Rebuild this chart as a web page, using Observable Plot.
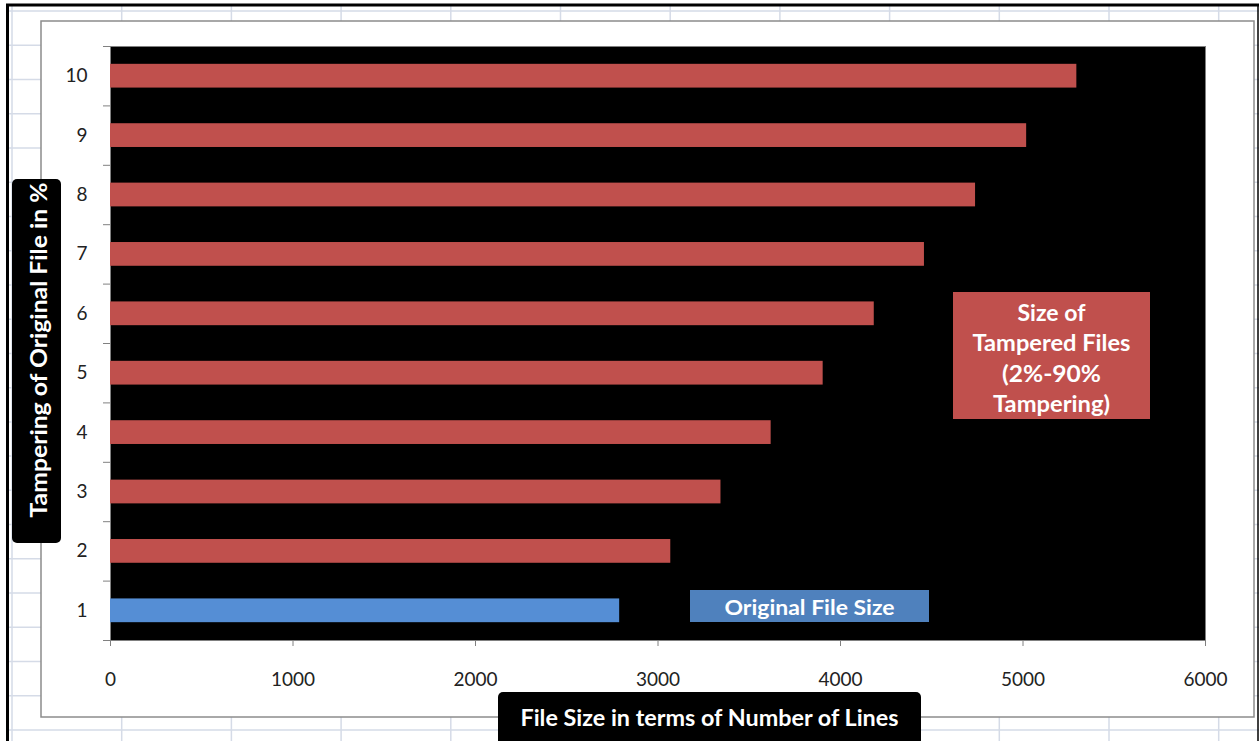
<!DOCTYPE html>
<html>
<head>
<meta charset="utf-8">
<script src="https://cdn.jsdelivr.net/npm/d3@7"></script>
<script src="https://cdn.jsdelivr.net/npm/@observablehq/plot@0.6"></script>
<style>
html, body { margin: 0; padding: 0; background: #fff; }
#chart { width: 1259px; height: 741px; overflow: hidden; position: relative; }
</style>
</head>
<body>
<div id="chart"></div>
<script>
// ---- data ----
const categories = [1, 2, 3, 4, 5, 6, 7, 8, 9, 10];           // tampering level (y)
const fileSizes  = [2790, 3070, 3345, 3620, 3905, 4185, 4460, 4740, 5020, 5295]; // lines (x)
const seriesKind = ["original", "tampered", "tampered", "tampered", "tampered",
                    "tampered", "tampered", "tampered", "tampered", "tampered"];
const xTicks = [0, 1000, 2000, 3000, 4000, 5000, 6000];
const xTitle = "File Size in terms of Number of Lines";
const yTitle = "Tampering of Original File in %";
const originalLabel = "Original File Size";
const tamperedLabel = ["Size of", "Tampered Files", "(2%-90%", "Tampering)"];

const data = categories.map((c, i) => ({pct: c, size: fileSizes[i], kind: seriesKind[i]}));
const boundaries = categories.map(c => c - 0.5).concat([categories[categories.length - 1] + 0.5]);

const FONT = "Lato, 'Open Sans', sans-serif";

const plot = Plot.plot({
  width: 1259,
  height: 741,
  marginLeft: 110,
  marginRight: 54,
  marginTop: 46,
  marginBottom: 101,
  style: {background: "transparent", fontFamily: FONT, color: "#222", overflow: "hidden"},
  x: {domain: [0, 6000]},
  y: {domain: [0.5, 10.5]},
  color: {domain: ["original", "tampered"], range: ["#558ED5", "#C0504D"]},
  marks: [
    Plot.frame({fill: "black", stroke: "#808080"}),
    Plot.rectX(data, {x1: 0, x2: "size", y1: d => d.pct - 0.2, y2: d => d.pct + 0.2, fill: "kind"}),
    Plot.axisX({ticks: xTicks, tickSize: 6, tickPadding: 26, fontSize: 19, stroke: "#808080",
                fill: "#222", label: null, tickFormat: d => String(d)}),
    Plot.axisY({ticks: categories, tickSize: 0, tickPadding: 23, fontSize: 19,
                fill: "#222", label: null, tickFormat: d => String(d)}),
    Plot.axisY({ticks: boundaries, tickSize: 7, stroke: "#808080", label: null, tickFormat: () => ""})
  ]
});

document.getElementById("chart").appendChild(plot);

const svg = d3.select(plot);

// ---- spreadsheet background (behind chart) ----
const bg = svg.insert("g", ":first-child");
bg.append("rect").attr("x", 0).attr("y", 0).attr("width", 1259).attr("height", 741).attr("fill", "#fff");
for (let k = 0; k <= 22; k++) {
  const y = 11 + 34.24 * k;
  bg.append("line").attr("x1", 8).attr("x2", 1259).attr("y1", y).attr("y2", y)
    .attr("stroke", "#d5dbe7").attr("stroke-width", 1.5);
}
for (let k = 0; k <= 11; k++) {
  const x = 12 + 109.7 * k;
  bg.append("line").attr("x1", x).attr("x2", x).attr("y1", 5).attr("y2", 741)
    .attr("stroke", "#d5dbe7").attr("stroke-width", 1.5);
}
// black screenshot frame
bg.append("line").attr("x1", 7.5).attr("x2", 7.5).attr("y1", 4).attr("y2", 741).attr("stroke", "#000").attr("stroke-width", 3);
bg.append("line").attr("x1", 6).attr("x2", 1259).attr("y1", 5).attr("y2", 5).attr("stroke", "#000").attr("stroke-width", 3);
bg.append("line").attr("x1", 1258).attr("x2", 1258).attr("y1", 4).attr("y2", 741).attr("stroke", "#000").attr("stroke-width", 1.5);
// chart area
bg.append("rect").attr("x", 41).attr("y", 21).attr("width", 1213).attr("height", 696)
  .attr("fill", "#fff").attr("stroke", "#8c8c8c").attr("stroke-width", 1.5);

// ---- annotations (on top) ----
const fg = svg.append("g").attr("font-family", FONT).attr("font-weight", "bold").attr("fill", "#fff");

function label(g, text, x, y, size, len, rotate) {
  const t = g.append("text")
    .attr("x", x).attr("y", y)
    .attr("text-anchor", "middle")
    .attr("dominant-baseline", "central")
    .attr("font-size", size)
    .attr("textLength", len)
    .attr("lengthAdjust", "spacingAndGlyphs")
    .attr("fill", "#fff")
    .text(text);
  if (rotate) t.attr("transform", `rotate(${rotate},${x},${y})`);
  return t;
}

// x-axis title box
fg.append("rect").attr("x", 498).attr("y", 692).attr("width", 423).attr("height", 60).attr("rx", 5).attr("fill", "#000");
label(fg, xTitle, 709.5, 717, 22, 378);

// y-axis title box
fg.append("rect").attr("x", 12).attr("y", 179).attr("width", 49).attr("height", 364).attr("rx", 5).attr("fill", "#000");
label(fg, yTitle, 38, 350, 22, 335, -90);

// original file size label
fg.append("rect").attr("x", 690).attr("y", 590).attr("width", 239).attr("height", 32).attr("fill", "#4F81BD");
label(fg, originalLabel, 809.5, 606, 21, 170);

// tampered files label
fg.append("rect").attr("x", 953).attr("y", 292).attr("width", 197).attr("height", 127).attr("fill", "#C0504D");
const tLens = [68, 158, 99, 117];
const tYs = [312, 342, 373, 403];
tamperedLabel.forEach((s, i) => label(fg, s, 1051.5, tYs[i], 22, tLens[i]));
</script>
</body>
</html>
